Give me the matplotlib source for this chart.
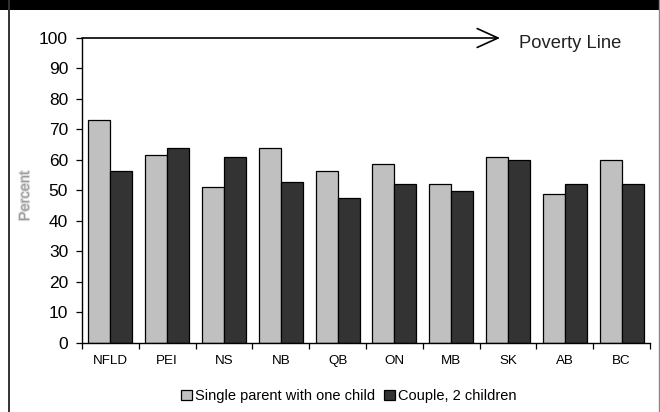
import matplotlib
matplotlib.use("Agg")
import matplotlib.pyplot as plt
import matplotlib.patheffects as pe
from matplotlib.patches import Rectangle
from matplotlib.lines import Line2D
import numpy as np

provinces = ["NFLD", "PEI", "NS", "NB", "QB", "ON", "MB", "SK", "AB", "BC"]
single_parent = [73, 61.5, 51, 64, 56.5, 58.5, 52, 61, 48.8, 60]
couple_two = [56.5, 64, 61, 52.8, 47.5, 52, 49.7, 60, 52, 52]
yticks = [0, 10, 20, 30, 40, 50, 60, 70, 80, 90, 100]
poverty_line = 100

plt.rcParams["font.family"] = ["Liberation Sans", "DejaVu Sans"]

fig = plt.figure(figsize=(6.6, 4.12), dpi=100)
W, H = 660, 412

# frame: black band on top, thin side borders
fig.patches.append(Rectangle((0, 1 - 9.5 / H), 1, 9.5 / H, transform=fig.transFigure,
                             facecolor="black", edgecolor="none", zorder=0))
fig.lines.append(Line2D([9 / W, 9 / W], [0, 1], transform=fig.transFigure,
                        color="#333333", lw=1.4))
fig.lines.append(Line2D([659 / W, 659 / W], [0, 1], transform=fig.transFigure,
                        color="#888888", lw=1.0))

ax = fig.add_axes([82 / W, 1 - 342.7 / H, (650 - 82) / W, (342.7 - 38) / H])

x = np.arange(len(provinces))
bw = 0.387
ax.bar(x - bw / 2, single_parent, bw, color="#c0c0c0", edgecolor="black", lw=0.9,
       label="Single parent with one child", zorder=2)
ax.bar(x + bw / 2, couple_two, bw, color="#333333", edgecolor="black", lw=0.9,
       label="Couple, 2 children", zorder=2)

ax.set_xlim(-0.5, len(provinces) - 0.5)
ax.set_ylim(0, 100)
for s in ("top", "right"):
    ax.spines[s].set_visible(False)
ax.spines["left"].set_linewidth(1.0)
ax.spines["bottom"].set_linewidth(1.0)

ax.set_yticks(yticks)
ax.tick_params(axis="y", direction="out", length=4, width=0.9, pad=6, labelsize=12.5)
ax.set_xticks(x)
ax.set_xticklabels(provinces)
ax.tick_params(axis="x", which="major", length=0, pad=9, labelsize=9.6)
ax.set_xticks(np.arange(-0.5, len(provinces)), minor=True)
ax.tick_params(axis="x", which="minor", direction="out", length=4, width=0.9)

# poverty line drawn as an arrow along the 100% level
ax.annotate("", xy=(6.86, poverty_line), xytext=(-0.5, poverty_line),
            xycoords="data", textcoords="data", annotation_clip=False,
            arrowprops=dict(arrowstyle="->,head_length=1.5,head_width=0.68",
                            mutation_scale=10, lw=1.2, color="black",
                            shrinkA=0, shrinkB=0))
fig.text(519 / W, 1 - 43 / H, "Poverty Line", fontsize=13.2,
         ha="left", va="center", color="#222222")

fig.text(25 / W, 1 - 196 / H, "Percent", rotation=90, fontsize=10.5,
         ha="center", va="center", color="#999999",
         path_effects=[pe.withStroke(linewidth=1.5, foreground="#dddddd")])

fig.legend(loc="center", bbox_to_anchor=(349 / W, 1 - 396 / H), ncol=2,
           frameon=False, fontsize=10.5, handlelength=0.75, handleheight=0.75,
           handletextpad=0.2, columnspacing=0.6, borderpad=0)

fig.savefig("out.png", dpi=100)
